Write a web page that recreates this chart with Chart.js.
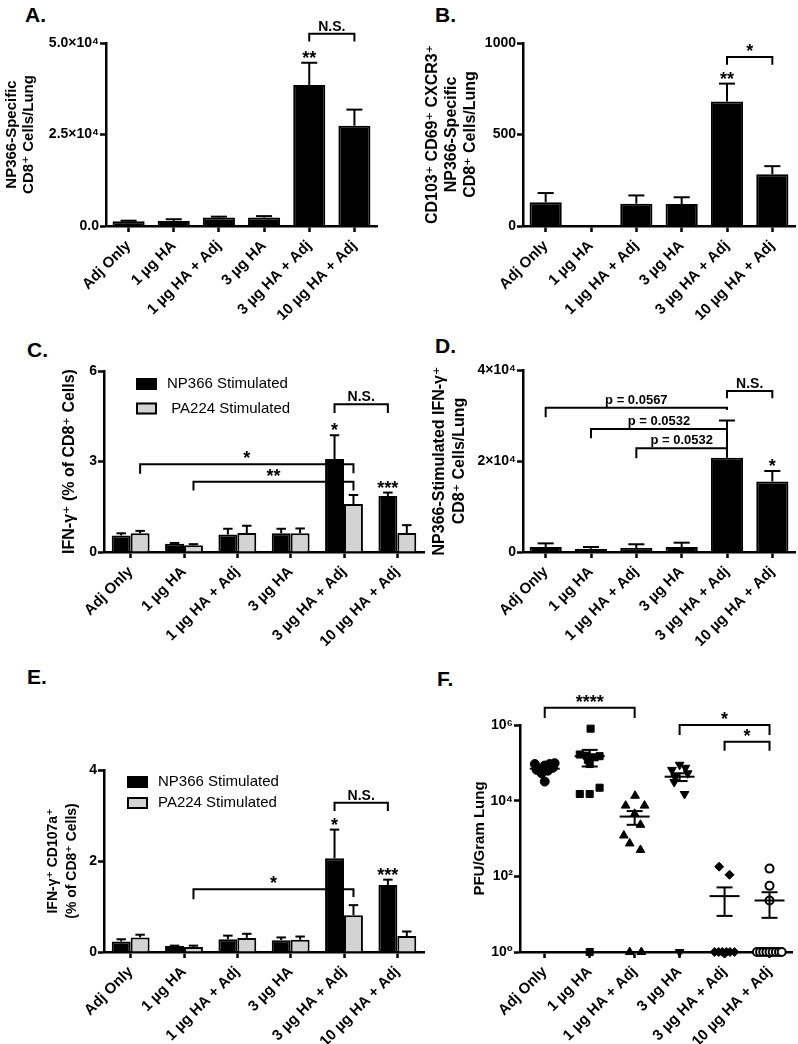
<!DOCTYPE html>
<html>
<head>
<meta charset="utf-8">
<script src="https://cdn.jsdelivr.net/npm/chart.js@4.4.0/dist/chart.umd.min.js"></script>
<style>
  body { margin: 0; background: #fff; width: 798px; height: 1044px; position: relative; overflow: hidden;
         font-family: "Liberation Sans", Arial, "DejaVu Sans", sans-serif; }
  canvas { position: absolute; }
  .panel { position: absolute; font-weight: bold; font-size: 21px; line-height: 21px; }
</style>
</head>
<body>
<div class="panel" style="left:25px;top:4px">A.</div>
<div class="panel" style="left:435px;top:4px">B.</div>
<div class="panel" style="left:27px;top:339px">C.</div>
<div class="panel" style="left:435px;top:335px">D.</div>
<div class="panel" style="left:27px;top:666px">E.</div>
<div class="panel" style="left:437px;top:668px">F.</div>

<canvas id="chartA" width="400" height="330" style="left:0;top:0"></canvas>
<canvas id="chartB" width="398" height="330" style="left:400px;top:0"></canvas>
<canvas id="chartC" width="430" height="330" style="left:0;top:330px"></canvas>
<canvas id="chartD" width="398" height="330" style="left:400px;top:330px"></canvas>
<canvas id="chartE" width="430" height="384" style="left:0;top:660px"></canvas>
<canvas id="chartF" width="398" height="384" style="left:400px;top:660px"></canvas>

<script>
const FONT = '"Liberation Sans", Arial, "DejaVu Sans", sans-serif';
Chart.defaults.font.family = FONT;
Chart.defaults.font.size = 14;
Chart.defaults.font.weight = 'bold';
Chart.defaults.color = '#000';
Chart.defaults.animation = false;

// Groups shared by all panels
const GROUPS = ['Adj Only', '1 µg HA', '1 µg HA + Adj', '3 µg HA', '3 µg HA + Adj', '10 µg HA + Adj'];

// Panel A
const A_MEAN = [1300, 1400, 2300, 2300, 38500, 27400];
const A_SEM = [150, 450, 250, 400, 6100, 4400];
const A_YTICKS = [0, 25000, 50000];
const A_YLABELS = ['0.0', '2.5×10⁴', '5.0×10⁴'];
const A_STARS = [[4, 0, '**']];
const A_BRACKETS = [[4, 5, 52500, 50400, 50400, 'N.S.', 0]];

// Panel B
const B_MEAN = [130, 0, 122, 120, 680, 283];
const B_SEM = [50, 0, 45, 37, 98, 44];
const B_YTICKS = [0, 500, 1000];
const B_YLABELS = ['0', '500', '1000'];
const B_STARS = [[4, 0, '**']];
const B_BRACKETS = [[4, 5, 923, 881, 881, '*', 0]];

// Panel C
const C_LABELS = ['NP366 Stimulated', ' PA224 Stimulated'];
const C_NP = [0.55, 0.27, 0.58, 0.62, 3.08, 1.86];
const C_NP_SEM = [0.07, 0.03, 0.19, 0.15, 0.79, 0.11];
const C_PA = [0.62, 0.22, 0.63, 0.62, 1.59, 0.63];
const C_PA_SEM = [0.08, 0.04, 0.24, 0.16, 0.30, 0.26];
const C_YTICKS = [0, 3, 6];
const C_YLABELS = ['0', '3', '6'];
const C_STARS = [[4, 0, '*'], [5, 0, '***']];
const C_BRACKETS = [[4, 5, 4.9, 4.61, 4.61, 'N.S.', 0], [0, 4, 2.91, 2.59, 2.61, '*', 1], [1, 4, 2.33, 2.04, 2.04, '**', 1]];

// Panel D
const D_MEAN = [1100, 730, 880, 1100, 20700, 15500];
const D_SEM = [800, 370, 820, 950, 8200, 2300];
const D_YTICKS = [0, 20000, 40000];
const D_YLABELS = ['0', '2×10⁴', '4×10⁴'];
const D_STARS = [[5, 0, '*']];
const D_BRACKETS = [[0, 4, 31730, 29620, 31200, 'p = 0.0567', 0], [1, 4, 27060, 25010, 26600, 'p = 0.0532', 0],
                    [2, 4, 22820, 20620, 22300, 'p = 0.0532', 0], [4, 5, 35400, 33800, 33800, 'N.S.', 0]];

// Panel E
const E_LABELS = ['NP366 Stimulated', 'PA224 Stimulated'];
const E_NP = [0.23, 0.13, 0.28, 0.26, 2.06, 1.47];
const E_NP_SEM = [0.05, 0.01, 0.08, 0.06, 0.63, 0.12];
const E_PA = [0.32, 0.11, 0.31, 0.27, 0.81, 0.35];
const E_PA_SEM = [0.06, 0.03, 0.09, 0.07, 0.22, 0.10];
const E_YTICKS = [0, 2, 4];
const E_YLABELS = ['0', '2', '4'];
const E_STARS = [[4, 0, '*'], [5, 0, '***']];
const E_BRACKETS = [[4, 5, 3.28, 3.1, 3.1, 'N.S.', 0], [1, 4, 1.38, 1.16, 1.21, '*', 1]];

// Panel F: [x offset within group, PFU/g]
const F_ADJ_ONLY = [[-0.22, 93000], [-0.11, 69000], [0, 85000], [0.11, 93000], [0.22, 98000], [-0.18, 65000],
                    [0.07, 62000], [0, 32000], [-0.07, 53000], [0.18, 74000]];
const F_HA1 = [[0.02, 800000], [-0.22, 166000], [-0.07, 155000], [0.11, 140000], [0.22, 150000], [0, 93000],
               [-0.04, 120000], [-0.22, 15000], [0, 15000], [0.22, 22000], [0, 1]];
const F_HA1_ADJ = [[0.01, 13500], [-0.2, 7400], [0.22, 7400], [0, 4500], [0.13, 2300], [-0.24, 1200],
                   [-0.11, 740], [0.13, 500], [-0.11, 1], [0.15, 1]];
const F_HA3 = [[-0.17, 65000], [0, 89000], [0.13, 74000], [0.18, 53000], [-0.12, 31000], [-0.1, 42000],
               [0.11, 15000], [0, 1]];
const F_HA3_ADJ = [[-0.12, 180], [0.11, 110], [-0.22, 1], [-0.13, 1], [-0.05, 1], [0.04, 1], [0.12, 1], [0.22, 1]];
const F_HA10_ADJ = [[0, 160], [0, 56], [0, 23], [-0.28, 1], [-0.21, 1], [-0.14, 1], [-0.07, 1], [0, 1],
                    [0.07, 1], [0.14, 1], [0.21, 1], [0.27, 1]];
const F_MEAN = [70000, 150000, 3800, 43000, 30, 23];
const F_SEM = [7000, 70000, 1500, 10000, 21, 15];
const F_YTICKS = [1, 100, 10000, 1000000];
const F_YLABELS = ['10⁰', '10²', '10⁴', '10⁶'];
const F_BRACKETS = [[0, 2, 2870000, 1530000, 1530000, '****', 0], [3, 5, 1000000, 540000, 540000, '*', 0],
                    [4, 5, 360000, 210000, 210000, '*', 0]];

const BLACK = '#000000';
const GRAY = '#d3d3d3';

function xAxis(f, linear) {
  const ax = {
    type: 'category',
    offset: true,
    grid: {display: true, drawOnChartArea: false, drawTicks: true, tickLength: 6, tickWidth: 2.5, tickColor: '#000', offset: false},
    border: {display: true, color: '#000', width: 2.5},
    ticks: {autoSkip: false, minRotation: 45, maxRotation: 45, padding: 5, font: {size: 15, weight: 'bold'}},
    afterFit: s => { s.height = f.H - f.B; }
  };
  if (linear) {
    ax.type = 'linear';
    ax.offset = false;
    ax.min = -0.55;
    ax.max = 5.5;
    ax.afterBuildTicks = s => { s.ticks = GROUPS.map((_, i) => ({value: i})); };
    ax.ticks.callback = (v, i) => GROUPS[i];
  }
  return ax;
}

function yAxis(f, vals, labels, title, t) {
  return {
    type: t.log ? 'logarithmic' : 'linear',
    min: vals[0],
    max: vals[vals.length - 1],
    afterBuildTicks: s => { s.ticks = vals.map(v => ({value: v})); },
    grid: {drawOnChartArea: false, drawTicks: true, tickLength: 6, tickWidth: 2.5, tickColor: '#000'},
    border: {display: true, color: '#000', width: 2.5},
    ticks: {padding: 1, callback: (v, i) => labels[i], font: {size: 14, weight: 'bold'}},
    title: {display: true, text: title, font: {size: t.size || 15, weight: 'bold', lineHeight: t.lh || 1.15},
            padding: {top: t.pad, bottom: 0}},
    afterFit: s => { s.width = f.L; }
  };
}

// error bars, stars, brackets, legend and mean lines
function marks(cfg) {
  return {
    id: 'marks',
    afterDatasetsDraw(chart) {
      const ctx = chart.ctx, x = chart.scales.x, y = chart.scales.y;
      const posX = (i, ds) => {
        const m = chart.getDatasetMeta(ds);
        return m.type === 'bar' ? m.data[i].x : x.getPixelForValue(i);
      };
      const path = pts => {
        ctx.beginPath();
        pts.forEach(([px, py], k) => k ? ctx.lineTo(px, py) : ctx.moveTo(px, py));
        ctx.stroke();
      };
      ctx.save();
      ctx.strokeStyle = '#000';
      ctx.fillStyle = '#000';
      ctx.lineWidth = 2;

      (cfg.sem || []).forEach((sem, ds) => {
        const vals = chart.data.datasets[ds].data;
        chart.getDatasetMeta(ds).data.forEach((bar, i) => {
          if (!sem[i]) return;
          const y0 = y.getPixelForValue(vals[i]);
          const y1 = y.getPixelForValue(vals[i] + sem[i]);
          const h = bar.width * 0.25;
          path([[bar.x, y0], [bar.x, y1]]);
          path([[bar.x - h, y1], [bar.x + h, y1]]);
        });
      });

      ctx.textAlign = 'center';
      ctx.textBaseline = 'alphabetic';
      (cfg.stars || []).forEach(([i, ds, text]) => {
        const v = chart.data.datasets[ds].data[i] + cfg.sem[ds][i];
        ctx.font = `bold 18px ${FONT}`;
        ctx.fillText(text, posX(i, ds), y.getPixelForValue(v) + 1);
      });

      (cfg.brackets || []).forEach(([a, b, top, la, lb, text, ds]) => {
        const xa = posX(a, ds), xb = posX(b, ds), yt = y.getPixelForValue(top);
        path([[xa, y.getPixelForValue(la)], [xa, yt], [xb, yt], [xb, y.getPixelForValue(lb)]]);
        let off = 0;
        if (/^\*+$/.test(text)) { ctx.font = `bold 18px ${FONT}`; off = 0; }
        else if (text.startsWith('p')) { ctx.font = `bold 13px ${FONT}`; off = 4; }
        else { ctx.font = `bold 14px ${FONT}`; off = 3; }
        ctx.fillText(text, (xa + xb) / 2, yt - off);
      });

      if (cfg.legend) {
        const L = cfg.legend, area = chart.chartArea;
        chart.data.datasets.forEach((d, k) => {
          const bx = area.left + L.x, by = area.top + L.y + k * L.gap;
          ctx.fillStyle = d.backgroundColor;
          ctx.fillRect(bx, by, 21, 12);
          ctx.lineWidth = 2;
          ctx.strokeRect(bx + 1, by + 1, 19, 10);
          ctx.fillStyle = '#000';
          ctx.font = `15px ${FONT}`;
          ctx.textAlign = 'left';
          ctx.textBaseline = 'middle';
          ctx.fillText(d.label, area.left + L.tx, by + 6);
        });
      }

      if (cfg.meanSem) {
        const {mean, sem} = cfg.meanSem;
        ctx.lineWidth = 2;
        mean.forEach((m, i) => {
          const cx = x.getPixelForValue(i);
          const ym = y.getPixelForValue(m);
          const yt = y.getPixelForValue(m + sem[i]);
          const yb = y.getPixelForValue(Math.max(m - sem[i], 1));
          path([[cx - 15, ym], [cx + 15, ym]]);
          path([[cx, yt], [cx, yb]]);
          path([[cx - 8, yt], [cx + 8, yt]]);
          path([[cx - 8, yb], [cx + 8, yb]]);
        });
      }
      ctx.restore();
    }
  };
}

function bars(label, data, color) {
  return {label, data, backgroundColor: color, borderColor: '#000', borderWidth: 2,
          categoryPercentage: 0.71, barPercentage: 1};
}

function barChart(id, f, datasets, yAx, cfg) {
  return new Chart(document.getElementById(id), {
    type: 'bar',
    data: {labels: GROUPS, datasets},
    options: {
      responsive: false,
      events: [],
      layout: {padding: {left: 0, top: f.T, right: f.W - f.R, bottom: 0}},
      scales: {x: xAxis(f, false), y: yAx},
      plugins: {legend: {display: false}, tooltip: {enabled: false}}
    },
    plugins: [marks(cfg)]
  });
}

// A
const fA = {W: 400, H: 330, L: 106, T: 43, R: 377, B: 226};
barChart('chartA', fA, [bars('A', A_MEAN, BLACK)],
  yAxis(fA, A_YTICKS, A_YLABELS, ['NP366-Specific', 'CD8⁺ Cells/Lung'], {pad: 3.5, lh: 1.133}),
  {sem: [A_SEM], stars: A_STARS, brackets: A_BRACKETS});

// B
const fB = {W: 398, H: 330, L: 123, T: 43, R: 395, B: 226};
barChart('chartB', fB, [bars('B', B_MEAN, BLACK)],
  yAxis(fB, B_YTICKS, B_YLABELS, ['CD103⁺ CD69⁺ CXCR3⁺', 'NP366-Specific', 'CD8⁺ Cells/Lung'], {pad: 23.6, size: 16, lh: 1.17}),
  {sem: [B_SEM], stars: B_STARS, brackets: B_BRACKETS});

// C
const fC = {W: 430, H: 330, L: 104, T: 41, R: 424, B: 222};
barChart('chartC', fC, [bars(C_LABELS[0], C_NP, BLACK), bars(C_LABELS[1], C_PA, GRAY)],
  yAxis(fC, C_YTICKS, C_YLABELS, 'IFN-γ⁺ (% of CD8⁺ Cells)', {pad: 60.8, size: 16}),
  {sem: [C_NP_SEM, C_PA_SEM], stars: C_STARS, brackets: C_BRACKETS, legend: {x: 32, y: 7, gap: 24.5, tx: 63}});

// D
const fD = {W: 398, H: 330, L: 123, T: 40, R: 395, B: 222};
barChart('chartD', fD, [bars('D', D_MEAN, BLACK)],
  yAxis(fD, D_YTICKS, D_YLABELS, ['NP366-Stimulated IFN-γ⁺', 'CD8⁺ Cells/Lung'], {pad: 30.2, size: 16, lh: 1.23}),
  {sem: [D_SEM], stars: D_STARS, brackets: D_BRACKETS});

// E
const fE = {W: 430, H: 384, L: 104, T: 110, R: 424, B: 292};
barChart('chartE', fE, [bars(E_LABELS[0], E_NP, BLACK), bars(E_LABELS[1], E_PA, GRAY)],
  yAxis(fE, E_YTICKS, E_YLABELS, ['IFN-γ⁺ CD107a⁺', '(% of CD8⁺ Cells)'], {pad: 43.5, size: 14, lh: 1.36}),
  {sem: [E_NP_SEM, E_PA_SEM], stars: E_STARS, brackets: E_BRACKETS, legend: {x: 23, y: 6, gap: 21, tx: 54}});

// F
const fF = {W: 398, H: 384, L: 120, T: 65, R: 395, B: 292};
const F_GROUPS = [F_ADJ_ONLY, F_HA1, F_HA1_ADJ, F_HA3, F_HA3_ADJ, F_HA10_ADJ];
const F_MARKERS = [
  {pointStyle: 'circle', radius: 4.5, fill: BLACK, rot: 0},
  {pointStyle: 'rect', radius: 5, fill: BLACK, rot: 0},
  {pointStyle: 'triangle', radius: 5, fill: BLACK, rot: 0},
  {pointStyle: 'triangle', radius: 5, fill: BLACK, rot: 180},
  {pointStyle: 'rectRot', radius: 4.5, fill: BLACK, rot: 0},
  {pointStyle: 'circle', radius: 4, fill: '#ffffff', rot: 0}
];
new Chart(document.getElementById('chartF'), {
  type: 'scatter',
  data: {
    datasets: F_GROUPS.map((pts, g) => ({
      label: GROUPS[g],
      data: pts.map(([dx, v]) => ({x: g + dx, y: v})),
      pointStyle: F_MARKERS[g].pointStyle,
      pointRadius: F_MARKERS[g].radius,
      pointRotation: F_MARKERS[g].rot,
      pointBackgroundColor: F_MARKERS[g].fill,
      pointBorderColor: '#000',
      pointBorderWidth: g === 5 ? 2 : 1,
      clip: false
    }))
  },
  options: {
    responsive: false,
    events: [],
    layout: {padding: {left: 0, top: fF.T, right: fF.W - fF.R, bottom: 0}},
    scales: {
      x: xAxis(fF, true),
      y: yAxis(fF, F_YTICKS, F_YLABELS, 'PFU/Gram Lung', {pad: 71.5, log: true})
    },
    plugins: {legend: {display: false}, tooltip: {enabled: false}}
  },
  plugins: [marks({brackets: F_BRACKETS, meanSem: {mean: F_MEAN, sem: F_SEM}})]
});
</script>
</body>
</html>
